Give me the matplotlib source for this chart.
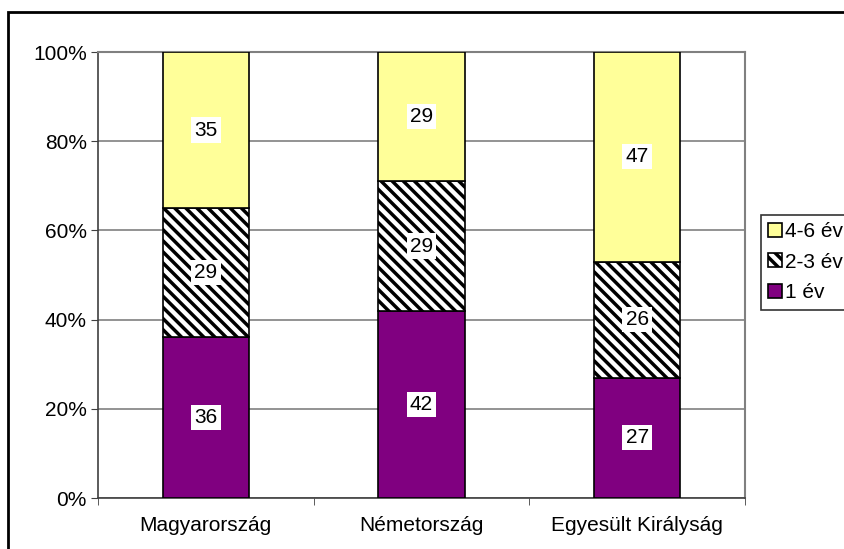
import matplotlib
matplotlib.use('Agg')
import matplotlib.pyplot as plt
from matplotlib.patches import Rectangle
import numpy as np

# data
countries = ['Magyarország', 'Németország', 'Egyesült Királyság']
ev1 = [36, 42, 27]
ev23 = [29, 29, 26]
ev46 = [35, 29, 47]
yticks = [0, 20, 40, 60, 80, 100]
ytick_labels = ['0%', '20%', '40%', '60%', '80%', '100%']

plt.rcParams['font.family'] = ['Liberation Sans', 'DejaVu Sans']
plt.rcParams['hatch.linewidth'] = 2.5
plt.rcParams['hatch.color'] = '#666666'

fs = 15
fig = plt.figure(figsize=(8.45, 5.49), dpi=100)
ax = fig.add_axes([98/845, 1-498/549, (745-98)/845, (498-52)/549])

x = np.arange(len(countries))
w = 0.4
ev1 = np.array(ev1)
ev23 = np.array(ev23)
ev46 = np.array(ev46)
tot = ev1 + ev23 + ev46

p1 = ev1 / tot * 100
p2 = ev23 / tot * 100
p3 = ev46 / tot * 100

b1 = ax.bar(x, p1, w, color='#800080', edgecolor='black', linewidth=1.2, label='1 év', zorder=3)
b2 = ax.bar(x, p2, w, bottom=p1, color='white', edgecolor='black', linewidth=1.2,
            hatch='\\\\\\', label='2-3 év', zorder=3)
b3 = ax.bar(x, p3, w, bottom=p1+p2, color='#ffff99', edgecolor='black', linewidth=1.2,
            label='4-6 év', zorder=3)

# value labels in white boxes
for vals, bottoms, heights in [(ev1, np.zeros(3), p1), (ev23, p1, p2), (ev46, p1+p2, p3)]:
    for i in range(len(x)):
        ax.text(x[i], bottoms[i] + heights[i]/2, str(vals[i]), ha='center', va='center',
                fontsize=fs, zorder=5,
                bbox=dict(boxstyle='square,pad=0.15', facecolor='white', edgecolor='none'))

ax.set_xlim(-0.5, len(countries) - 0.5)
ax.set_ylim(0, 100)
ax.set_yticks(yticks)
ax.set_yticklabels(ytick_labels, fontsize=fs)
ax.set_xticks(x)
ax.set_xticklabels(countries, fontsize=fs)
ax.tick_params(axis='x', length=0, pad=13)
ax.set_xticks(np.arange(-0.5, len(countries)), minor=True)
ax.tick_params(axis='x', which='minor', length=5, direction='out', color='#404040')
ax.tick_params(axis='y', length=5, direction='out', color='#404040', pad=3)
ax.grid(axis='y', color='#808080', linewidth=1.2, zorder=0)
ax.set_axisbelow(True)
for s in ['top', 'right']:
    ax.spines[s].set_color('#808080')
    ax.spines[s].set_linewidth(1.5)
for s in ['left', 'bottom']:
    ax.spines[s].set_color('#404040')
    ax.spines[s].set_linewidth(1.2)

leg = fig.legend(handles=[b3, b2, b1], loc='upper left', bbox_to_anchor=(761/845, 1-215/549),
                 fontsize=fs, frameon=True, fancybox=False, edgecolor='black',
                 handlelength=0.65, handleheight=0.65, handletextpad=0.15,
                 labelspacing=0.55, borderpad=0.35, borderaxespad=0)
leg.get_frame().set_linewidth(1.2)

# outer chart border, cut off at right and bottom like the reference
fig.patches.append(Rectangle((8/845, -0.1), 1.1, 1.1 - 12/549, transform=fig.transFigure,
                             fill=False, edgecolor='black', linewidth=2))

fig.savefig('out.png', dpi=100)
